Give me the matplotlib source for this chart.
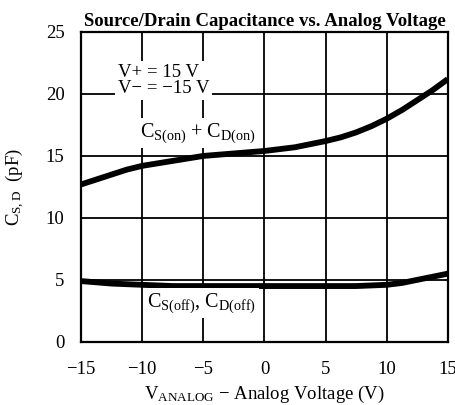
import numpy as np
import matplotlib
matplotlib.use("Agg")
import matplotlib.pyplot as plt

plt.rcParams['font.family'] = ['Liberation Serif', 'DejaVu Serif']
plt.rcParams['mathtext.fontset'] = 'custom'
plt.rcParams['mathtext.rm'] = 'Liberation Serif'
plt.rcParams['mathtext.it'] = 'Liberation Serif'

# data
v_analog = [-15, -13.75, -12.5, -11.25, -10, -8.75, -7.5, -6.25, -5, -3.75, -2.5, -1.25, 0,
            1.25, 2.5, 3.75, 5, 6.25, 7.5, 8.75, 10, 11.25, 12.5, 13.75, 15]
c_on = [12.7, 13.1, 13.5, 13.9, 14.2, 14.4, 14.6, 14.8, 15.0, 15.1, 15.2, 15.3, 15.4,
        15.55, 15.7, 15.95, 16.2, 16.5, 16.9, 17.4, 18.0, 18.7, 19.5, 20.3, 21.2]
c_off = [4.9, 4.8, 4.7, 4.65, 4.6, 4.55, 4.5, 4.5, 4.5, 4.5, 4.5, 4.5, 4.5,
         4.5, 4.5, 4.5, 4.5, 4.5, 4.5, 4.55, 4.6, 4.75, 5.0, 5.25, 5.5]

x_ticks = [-15, -10, -5, 0, 5, 10, 15]
y_ticks = [0, 5, 10, 15, 20, 25]

fig = plt.figure(figsize=(4.56, 4.05), dpi=100)
ax = fig.add_axes([0.178, 0.156, 0.804, 0.765])

ax.set_xlim(-15, 15)
ax.set_ylim(0, 25)
ax.set_xticks(x_ticks)
ax.set_yticks(y_ticks)
ax.set_xticklabels(["\u221215", "\u221210", "\u22125", "0", "5", "10", "15"])
ax.tick_params(length=0, labelsize=13.5)
ax.tick_params(axis='x', pad=14)
ax.tick_params(axis='y', pad=12)
ax.grid(True, color='black', linewidth=1.3, zorder=1)
for s in ax.spines.values():
    s.set_linewidth(1.6)

ax.plot(v_analog, c_on, color='black', linewidth=4.2, solid_capstyle='butt',
        solid_joinstyle='round', zorder=3)
ax.plot(v_analog, c_off, color='black', linewidth=4.2, solid_capstyle='butt',
        solid_joinstyle='round', zorder=3)

box = dict(facecolor='white', edgecolor='none', pad=2)
ax.text(-12.0, 21.1, "V+ = 15 V\nV\u2212 = \u221215 V", fontsize=13.5, ha='left', va='center',
        linespacing=0.95, bbox=box, zorder=4)
ax.text(-10.2, 16.85, r"C$_{\mathrm{S(on)}}$ + C$_{\mathrm{D(on)}}$", fontsize=14.5,
        ha='left', va='center', bbox=box, zorder=4)
ax.text(-9.6, 3.15, r"C$_{\mathrm{S(off)}}$, C$_{\mathrm{D(off)}}$", fontsize=14.5,
        ha='left', va='center', bbox=box, zorder=4)

ax.set_title("Source/Drain Capacitance vs. Analog Voltage", fontsize=13.5,
             fontweight='bold', pad=4)
ax.set_xlabel("V$_{\\mathrm{ANALOG}}$ \u2212 Analog Voltage (V)", fontsize=13.5, labelpad=4)
ax.set_ylabel(r"C$_{\mathrm{S,D}}$  (pF)", fontsize=13.5, labelpad=14)

fig.savefig("out.png", dpi=100)
